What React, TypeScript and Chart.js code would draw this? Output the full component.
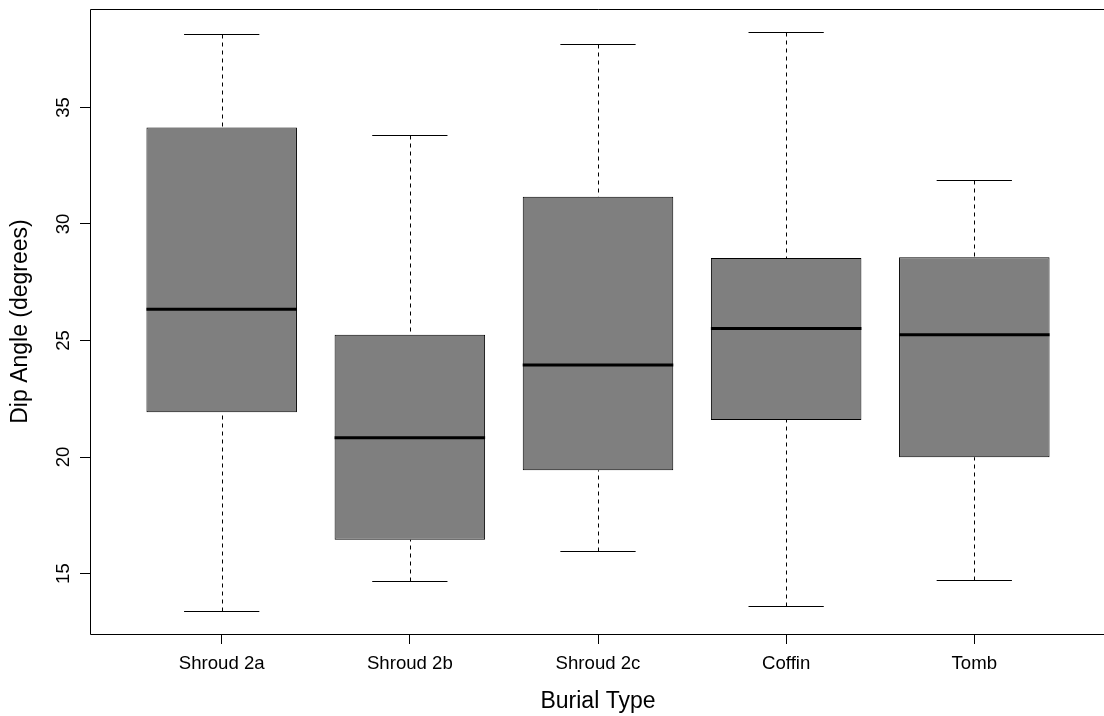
import React, { useEffect, useRef } from "react";
import { Chart, registerables } from "chart.js";

Chart.register(...registerables);

// Five-number summaries of dip angle (degrees) per burial type
const CATEGORIES = ["Shroud 2a", "Shroud 2b", "Shroud 2c", "Coffin", "Tomb"];
const WHISKER_LOW = [13.4, 14.67, 15.97, 13.6, 14.72];
const Q1 = [21.92, 16.45, 19.43, 21.59, 19.99];
const MEDIAN = [26.34, 20.83, 23.95, 25.52, 25.25];
const Q3 = [34.14, 25.25, 31.17, 28.54, 28.57];
const WHISKER_HIGH = [38.14, 33.8, 37.74, 38.23, 31.88];
const Y_TICKS = [15, 20, 25, 30, 35];

const FONT = '"Liberation Sans", Arial, Helvetica, sans-serif';
const BOX_HALF = 0.4;
const CAP_HALF = 0.2;

// Axis ranges padded by 4% in the style of base graphics
const dataMin = Math.min(...WHISKER_LOW);
const dataMax = Math.max(...WHISKER_HIGH);
const pad = (dataMax - dataMin) * 0.04;
const Y_MIN = dataMin - pad;
const Y_MAX = dataMax + pad;
const X_MIN = 0.5 - 0.2;
const X_MAX = CATEGORIES.length + 0.5 + 0.2;

const boxPlotPlugin = {
  id: "boxPlotParts",
  beforeDatasetsDraw(chart: any) {
    const { ctx } = chart;
    const x = chart.scales.x;
    const y = chart.scales.y;
    ctx.save();
    ctx.strokeStyle = "#000";
    ctx.lineWidth = 1;
    ctx.lineCap = "butt";
    CATEGORIES.forEach((_, i) => {
      const cx = Math.round(x.getPixelForValue(i + 1)) + 0.5;
      const capL = x.getPixelForValue(i + 1 - CAP_HALF);
      const capR = x.getPixelForValue(i + 1 + CAP_HALF);
      const yLow = Math.round(y.getPixelForValue(WHISKER_LOW[i])) + 0.5;
      const yHigh = Math.round(y.getPixelForValue(WHISKER_HIGH[i])) + 0.5;
      const yQ1 = y.getPixelForValue(Q1[i]);
      const yQ3 = y.getPixelForValue(Q3[i]);
      // dashed whiskers
      ctx.setLineDash([4, 4]);
      ctx.beginPath();
      ctx.moveTo(cx, yLow);
      ctx.lineTo(cx, yQ1);
      ctx.moveTo(cx, yHigh);
      ctx.lineTo(cx, yQ3);
      ctx.stroke();
      // whisker caps
      ctx.setLineDash([]);
      ctx.beginPath();
      ctx.moveTo(capL, yLow);
      ctx.lineTo(capR, yLow);
      ctx.moveTo(capL, yHigh);
      ctx.lineTo(capR, yHigh);
      ctx.stroke();
    });
    ctx.restore();
  },
  afterDatasetsDraw(chart: any) {
    const { ctx } = chart;
    const x = chart.scales.x;
    const y = chart.scales.y;
    ctx.save();
    ctx.strokeStyle = "#000";
    ctx.lineWidth = 3;
    ctx.lineCap = "butt";
    CATEGORIES.forEach((_, i) => {
      const l = x.getPixelForValue(i + 1 - BOX_HALF);
      const r = x.getPixelForValue(i + 1 + BOX_HALF);
      const ym = y.getPixelForValue(MEDIAN[i]);
      ctx.beginPath();
      ctx.moveTo(l, ym);
      ctx.lineTo(r, ym);
      ctx.stroke();
    });
    ctx.restore();
  },
  afterDraw(chart: any) {
    const { ctx, chartArea } = chart;
    const y = chart.scales.y;
    ctx.save();
    // frame around the plotting region (its right edge lies past the canvas)
    ctx.strokeStyle = "#000";
    ctx.lineWidth = 1;
    const l = chartArea.left + 0.5;
    const t = chartArea.top + 0.5;
    const b = chartArea.bottom + 0.5;
    const r = chartArea.right + 4;
    ctx.beginPath();
    ctx.moveTo(r, t);
    ctx.lineTo(l, t);
    ctx.lineTo(l, b);
    ctx.lineTo(r, b);
    ctx.stroke();
    // rotated y tick labels
    ctx.fillStyle = "#000";
    ctx.font = `18.6px ${FONT}`;
    ctx.textAlign = "center";
    ctx.textBaseline = "alphabetic";
    Y_TICKS.forEach((v) => {
      ctx.save();
      ctx.translate(68.5, y.getPixelForValue(v));
      ctx.rotate(-Math.PI / 2);
      ctx.fillText(String(v), 0, 0);
      ctx.restore();
    });
    ctx.restore();
  },
};

export default function App() {
  const canvasRef = useRef<HTMLCanvasElement | null>(null);

  useEffect(() => {
    document.body.style.margin = "0";
    const canvas = canvasRef.current;
    if (!canvas) return;
    const chart = new Chart(canvas, {
      type: "bar",
      data: {
        datasets: [
          {
            data: CATEGORIES.map((_, i) => ({ x: i + 1, y: [Q1[i], Q3[i]] })) as any,
            backgroundColor: "#7f7f7f",
            borderColor: "#000",
            borderWidth: 1,
            borderSkipped: false,
            categoryPercentage: 1,
            barPercentage: BOX_HALF * 2,
          },
        ],
      },
      options: {
        animation: false,
        responsive: false,
        devicePixelRatio: 1,
        events: [],
        layout: { padding: { left: 0, top: 9, right: 0, bottom: 0 } },
        plugins: {
          legend: { display: false },
          tooltip: { enabled: false },
        },
        scales: {
          x: {
            type: "linear",
            min: X_MIN,
            max: X_MAX,
            offset: false,
            afterBuildTicks: (scale: any) => {
              scale.ticks = CATEGORIES.map((_, i) => ({ value: i + 1 }));
            },
            afterFit: (scale: any) => {
              scale.height = 82;
            },
            grid: {
              offset: false,
              drawOnChartArea: false,
              drawTicks: true,
              tickLength: 10,
              color: "#000",
            },
            border: { display: false },
            ticks: {
              autoSkip: false,
              maxRotation: 0,
              minRotation: 0,
              padding: 9,
              color: "#000",
              font: { family: FONT, size: 18.6 },
              callback: (value: any) => CATEGORIES[Math.round(Number(value)) - 1] ?? "",
            },
            title: {
              display: true,
              text: "Burial Type",
              color: "#000",
              font: { family: FONT, size: 23 },
              padding: { top: 0, bottom: 1 },
            },
          },
          y: {
            type: "linear",
            min: Y_MIN,
            max: Y_MAX,
            afterBuildTicks: (scale: any) => {
              scale.ticks = Y_TICKS.map((v) => ({ value: v }));
            },
            afterFit: (scale: any) => {
              scale.width = 90;
            },
            grid: {
              drawOnChartArea: false,
              drawTicks: true,
              tickLength: 10,
              color: "#000",
            },
            border: { display: false },
            ticks: { display: false },
            title: {
              display: true,
              text: "Dip Angle (degrees)",
              color: "#000",
              font: { family: FONT, size: 23 },
              padding: { top: 7, bottom: 0 },
            },
          },
        },
      },
      plugins: [boxPlotPlugin],
    });
    return () => chart.destroy();
  }, []);

  return (
    <div
      style={{
        position: "fixed",
        left: 0,
        top: 0,
        width: 1104,
        height: 716,
        overflow: "hidden",
        background: "#fff",
      }}
    >
      <canvas ref={canvasRef} width={1106} height={716} style={{ display: "block" }} />
    </div>
  );
}
